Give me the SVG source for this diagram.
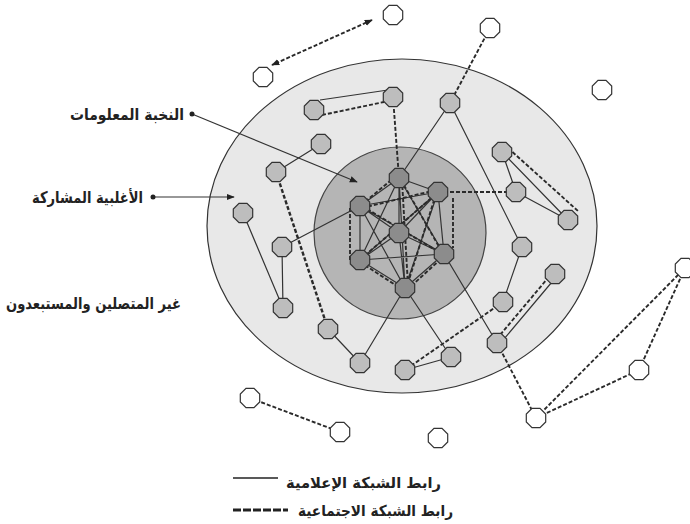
<svg xmlns="http://www.w3.org/2000/svg" xmlns:xlink="http://www.w3.org/1999/xlink" width="690" height="524" viewBox="0 0 690 524">
<style>
.s{stroke:#333;stroke-width:1.2;fill:none}
.d{stroke:#2a2a2a;stroke-width:1.9;fill:none;stroke-dasharray:4 2}
.dt{stroke:#2a2a2a;stroke-width:2.4;fill:none;stroke-dasharray:4 2}
.core{fill:#8c8c8c;stroke:#333;stroke-width:1.2}
.mid{fill:#bdbdbd;stroke:#333;stroke-width:1.2}
.out{fill:#fff;stroke:#333;stroke-width:1.2}
.lbl{font-family:"DejaVu Sans",sans-serif;font-weight:bold;font-size:16px;fill:#222}
.leg{font-family:"DejaVu Sans",sans-serif;font-weight:bold;font-size:15px;fill:#222}
</style>
<defs>
<polygon id="oct" points="9.7,4 4,9.7 -4,9.7 -9.7,4 -9.7,-4 -4,-9.7 4,-9.7 9.7,-4"/>
<marker id="ah" viewBox="0 0 10 10" refX="9" refY="5" markerWidth="8" markerHeight="8" orient="auto-start-reverse" markerUnits="userSpaceOnUse"><path d="M0,1 L10,5 L0,9 z" fill="#222"/></marker>
</defs>
<rect width="690" height="524" fill="#fff"/>
<g id="zones">
<ellipse cx="402" cy="226" rx="195" ry="167" fill="#e8e8e8" stroke="#333" stroke-width="1.2"/>
<circle cx="400" cy="233" r="86" fill="#b5b5b5" stroke="#444" stroke-width="1.2"/>
</g>
<g id="connectors">
<path class="s" d="M399,178L438,192M399,178L360,206M399,178L399,233M399,178L360,260M399,178L444,254M399,178L405,288M438,192L360,206M438,192L399,233M438,192L360,260M438,192L444,254M438,192L405,288M360,206L399,233M360,206L360,260M360,206L444,254M360,206L405,288M399,233L360,260M399,233L444,254M399,233L405,288M360,260L444,254M360,260L405,288M444,254L405,288"/>
<path class="d" d="M396,176L360,206M350,208L350,262M360,262L403,290M407,290L444,256M453,198L453,248M436,190L362,208M401,180L442,252M436,194L362,258M362,206L442,254M402,180L408,286M436,194L407,286"/>
<path class="s" d="M320,100L388,90M321,144L276,172M282,247L360,206M282,247L283,308M243,213L283,308M450,103L399,178M450,103L522,247M502,152L516,192M502,152L568,220M516,192L568,220M522,247L503,302M557,276L499,345M444,254L497,343M405,288L360,363M405,288L451,357M328,329L360,363M405,370L451,357"/>
<path class="d" d="M322,115L384,102M393,97L399,178M438,192L516,192M508,148L578,211M553,272L495,341M503,302L405,370M497,343L536,418M536,418L685,268M536,418L639,370M639,370L685,268M250,398L340,432M490,28L450,103"/>
<path class="dt" d="M276,172L328,329"/>
<path class="d" d="M372,20L272,65" marker-start="url(#ah)" marker-end="url(#ah)"/>
<path class="s" d="M192,114L357,182" marker-end="url(#ah)" stroke-width="1.5"/>
<path class="s" d="M153,197L234,197" marker-end="url(#ah)" stroke-width="1.8"/>
<circle cx="192" cy="114" r="2.5" fill="#222"/>
<circle cx="153" cy="197" r="2.5" fill="#222"/>
</g>
<g id="core-nodes">
<g id="cA"><use xlink:href="#oct" x="399" y="178" class="core"/></g>
<g id="cB"><use xlink:href="#oct" x="438" y="192" class="core"/></g>
<g id="cC"><use xlink:href="#oct" x="360" y="206" class="core"/></g>
<g id="cD"><use xlink:href="#oct" x="399" y="233" class="core"/></g>
<g id="cE"><use xlink:href="#oct" x="360" y="260" class="core"/></g>
<g id="cF"><use xlink:href="#oct" x="444" y="254" class="core"/></g>
<g id="cG"><use xlink:href="#oct" x="405" y="288" class="core"/></g>
</g>
<g id="mid-nodes">
<g id="m1"><use xlink:href="#oct" x="314" y="110" class="mid"/></g>
<g id="m2"><use xlink:href="#oct" x="393" y="97" class="mid"/></g>
<g id="m3"><use xlink:href="#oct" x="450" y="103" class="mid"/></g>
<g id="m4"><use xlink:href="#oct" x="502" y="152" class="mid"/></g>
<g id="m5"><use xlink:href="#oct" x="321" y="144" class="mid"/></g>
<g id="m6"><use xlink:href="#oct" x="276" y="172" class="mid"/></g>
<g id="m7"><use xlink:href="#oct" x="243" y="213" class="mid"/></g>
<g id="m8"><use xlink:href="#oct" x="282" y="247" class="mid"/></g>
<g id="m9"><use xlink:href="#oct" x="283" y="308" class="mid"/></g>
<g id="m11"><use xlink:href="#oct" x="328" y="329" class="mid"/></g>
<g id="m12"><use xlink:href="#oct" x="360" y="363" class="mid"/></g>
<g id="m13"><use xlink:href="#oct" x="405" y="370" class="mid"/></g>
<g id="m14"><use xlink:href="#oct" x="451" y="357" class="mid"/></g>
<g id="m15"><use xlink:href="#oct" x="516" y="192" class="mid"/></g>
<g id="m16"><use xlink:href="#oct" x="568" y="220" class="mid"/></g>
<g id="m17"><use xlink:href="#oct" x="522" y="247" class="mid"/></g>
<g id="m18"><use xlink:href="#oct" x="555" y="274" class="mid"/></g>
<g id="m19"><use xlink:href="#oct" x="503" y="302" class="mid"/></g>
<g id="m20"><use xlink:href="#oct" x="497" y="343" class="mid"/></g>
</g>
<g id="outer-nodes">
<g id="o1"><use xlink:href="#oct" x="393" y="15" class="out"/></g>
<g id="o2"><use xlink:href="#oct" x="263" y="77" class="out"/></g>
<g id="o3"><use xlink:href="#oct" x="490" y="28" class="out"/></g>
<g id="o4"><use xlink:href="#oct" x="602" y="90" class="out"/></g>
<g id="o5"><use xlink:href="#oct" x="685" y="268" class="out"/></g>
<g id="o6"><use xlink:href="#oct" x="639" y="370" class="out"/></g>
<g id="o7"><use xlink:href="#oct" x="536" y="418" class="out"/></g>
<g id="o8"><use xlink:href="#oct" x="250" y="398" class="out"/></g>
<g id="o9"><use xlink:href="#oct" x="340" y="432" class="out"/></g>
<g id="o10"><use xlink:href="#oct" x="438" y="438" class="out"/></g>
</g>
<g id="labels">
<text class="lbl" x="184" y="120" text-anchor="end" textLength="114" lengthAdjust="spacingAndGlyphs">النخبة المعلومات</text>
<text class="lbl" x="143" y="203" text-anchor="end" textLength="111" lengthAdjust="spacingAndGlyphs">الأغلبية المشاركة</text>
<text class="lbl" x="181" y="309" text-anchor="end" textLength="175" lengthAdjust="spacingAndGlyphs">غير المتصلين والمستبعدون</text>
</g>
<g id="legend">
<line x1="233" y1="478" x2="278" y2="478" stroke="#222" stroke-width="1.5"/>
<text class="leg" x="441" y="488" text-anchor="end" textLength="155" lengthAdjust="spacingAndGlyphs">رابط الشبكة الإعلامية</text>
<line x1="233" y1="510" x2="288" y2="510" stroke="#222" stroke-width="3" stroke-dasharray="8 2"/>
<text class="leg" x="453" y="516" text-anchor="end" textLength="155" lengthAdjust="spacingAndGlyphs">رابط الشبكة الاجتماعية</text>
</g>
</svg>
